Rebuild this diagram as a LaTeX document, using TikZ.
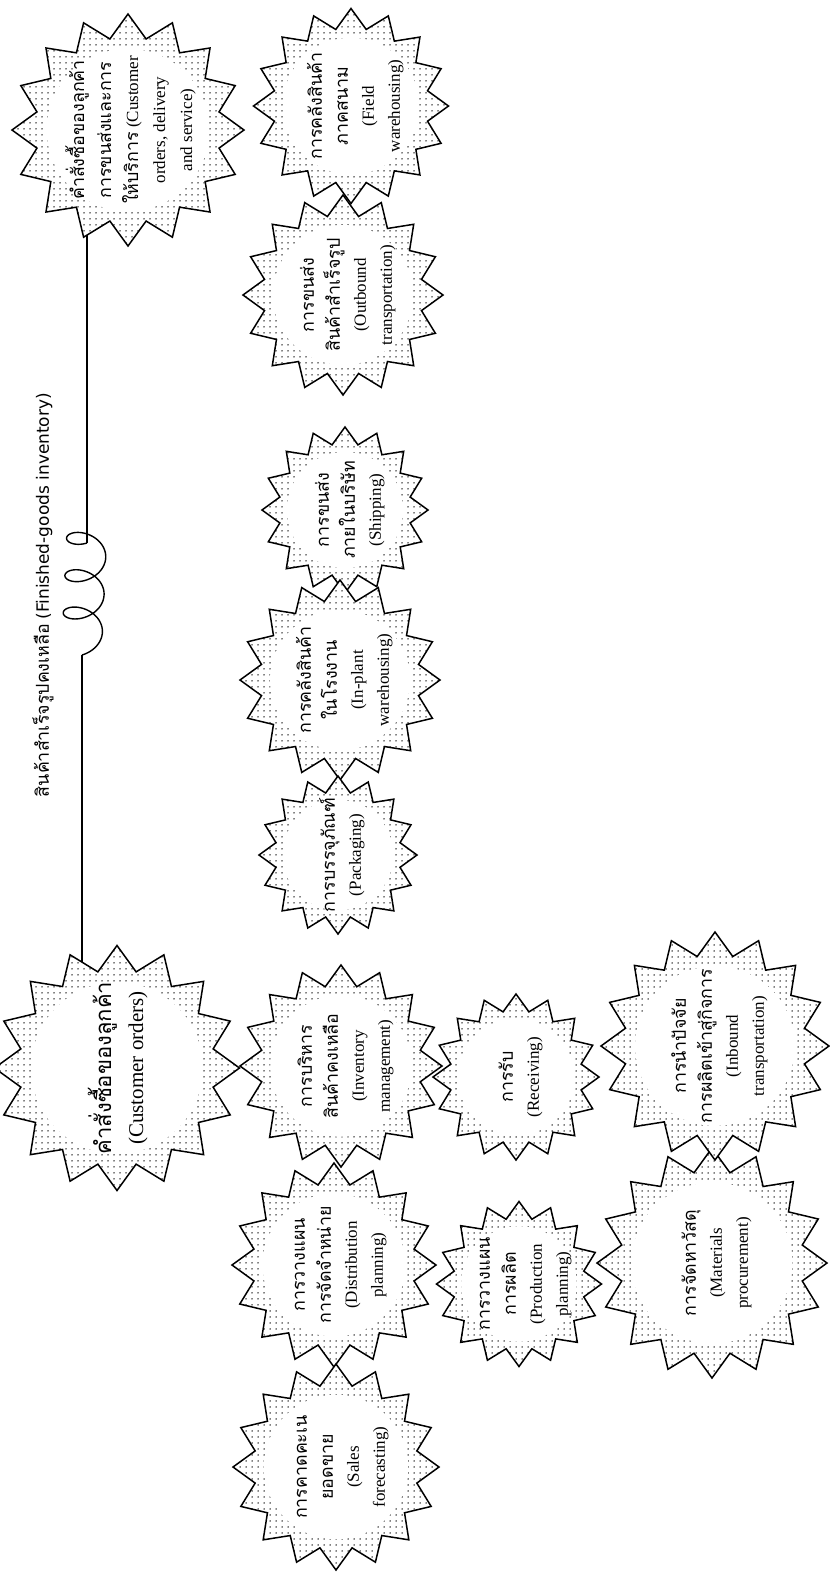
\documentclass[tikz,border=0pt]{standalone}
\usepackage{fontspec}
\setmainfont{Liberation Serif}
\newfontfamily\thai[Script=Thai,Scale=1.05]{Loma}
\newfontfamily\labelsans{DejaVu Sans}
\usetikzlibrary{shapes.geometric,patterns.meta,backgrounds}
% gear text: kept out of the star's size
\newcommand{\gtext}[1]{\makebox[0pt]{\smash{\raisebox{-9pt}{\begin{tabular}{@{}c@{}}#1\end{tabular}}}}}
\newcommand{\thl}[1]{\smash{\thai #1}}

\begin{document}
\begin{tikzpicture}[x=1pt,y=-1pt,
  gear/.style={star, star points=16, star point ratio=1.25, draw, line width=1.5pt,
    minimum size=#1, inner sep=0pt, rotate=90,
    font=\fontsize{17}{26}\selectfont,
    preaction={fill=white},
    pattern={Dots[distance=6pt, radius=0.75pt]},
    path picture={\fill[white] (path picture bounding box.center) circle[radius=0.35*#1];}}]
\useasboundingbox (0,0) rectangle (830,1575);
% Outbound side
\node[gear=232pt, font=\fontsize{17}{27}\selectfont] (cods) at (128,130) {\gtext{\thl{คำสั่งซื้อของลูกค้า}\\\thl{การขนส่งและการ}\\\thl{ให้บริการ} (Customer\\orders, delivery\\and service)}};
\node[gear=195pt] (field) at (351,106) {\gtext{\thl{การคลังสินค้า}\\\thl{ภาคสนาม}\\(Field\\warehousing)}};
\node[gear=200pt] (outb) at (343,295) {\gtext{\thl{การขนส่ง}\\\thl{สินค้าสำเร็จรูป}\\(Outbound\\transportation)}};
\node[gear=166pt] (ship) at (345,510) {\gtext{\thl{การขนส่ง}\\\thl{ภายในบริษัท}\\(Shipping)}};
\node[gear=200pt] (inplant) at (340,680) {\gtext{\thl{การคลังสินค้า}\\\thl{ในโรงงาน}\\(In-plant\\warehousing)}};
\node[gear=158pt] (pack) at (338,855) {\gtext{\thl{การบรรจุภัณฑ์}\\(Packaging)}};
% Customer orders and planning
\node[gear=202pt] (invm) at (341,1066) {\gtext{\thl{การบริหาร}\\\thl{สินค้าคงเหลือ}\\(Inventory\\management)}};
\node[gear=245pt, font=\fontsize{21}{32}\selectfont] (co) at (117,1068) {\gtext{\thl{คำสั่งซื้อของลูกค้า}\\(Customer orders)}};
\node[gear=204pt] (distp) at (334,1265) {\gtext{\thl{การวางแผน}\\\thl{การจัดจำหน่าย}\\(Distribution\\planning)}};
\node[gear=206pt] (sales) at (336,1467) {\gtext{\thl{การคาดคะเน}\\\thl{ยอดขาย}\\(Sales\\forecasting)}};
% Inbound side
\node[gear=166pt] (recv) at (516,1077) {\gtext{\thl{การรับ}\\(Receiving)}};
\node[gear=165pt] (prodp) at (519,1284) {\gtext{\thl{การวางแผน}\\\thl{การผลิต}\\(Production\\planning)}};
\node[gear=230pt] (matp) at (712,1263) {\gtext{\thl{การจัดหาวัสดุ}\\(Materials\\procurement)}};
\node[gear=228pt] (inb) at (715,1046) {\gtext{\thl{การนำปัจจัย}\\\thl{การผลิตเข้าสู่กิจการ}\\(Inbound\\transportation)}};
% Finished-goods inventory
\node[rotate=90, font=\fontsize{17}{20}\selectfont] (fgi) at (43,595) {{\thai สินค้าสำเร็จรูปคงเหลือ} {\labelsans (Finished-goods inventory)}};
\coordinate (coilbot) at (82,655);
\coordinate (coiltop) at (87,543);
\draw[line width=1.4pt, smooth] plot[domain=0:6*pi, samples=240, variable=\t]
  ({82 + 5*\t/(6*pi) + 20*sin(\t r)}, {655 - 5.94*\t - 14*(1-cos(\t r))});
\begin{scope}[on background layer]
\draw[line width=1.4pt] (coilbot) -- (coilbot |- co);
\draw[line width=1.4pt] (coiltop) -- (coiltop |- cods);
\end{scope}
\end{tikzpicture}
\end{document}
